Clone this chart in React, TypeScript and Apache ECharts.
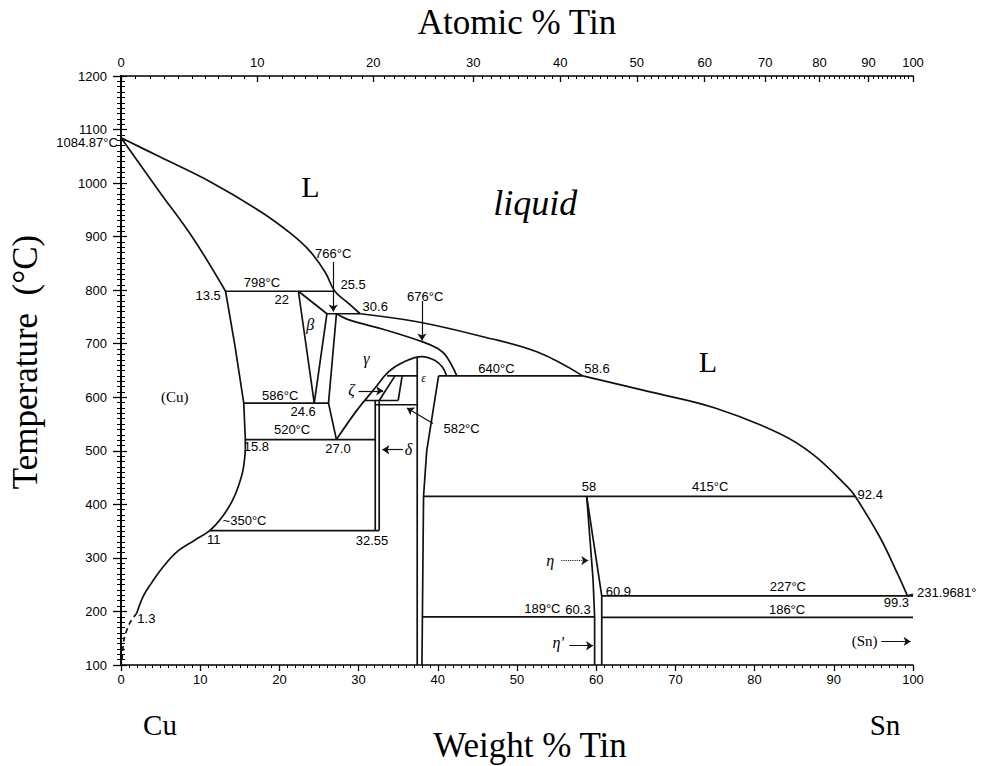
import React, { useEffect, useRef } from "react";
import * as echarts from "echarts";

type P = [number, number];

// atomic masses used to place the Atomic % axis over the Weight % axis
const MASS_CU = 63.546;
const MASS_SN = 118.71;
const atToWt = (a: number) =>
  a <= 0 ? 0 : a >= 100 ? 100 : ((a * MASS_SN) / (a * MASS_SN + (100 - a) * MASS_CU)) * 100;

const atomicMajorTicks = [0, 10, 20, 30, 40, 50, 60, 70, 80, 90, 100];
const atomicMinorTicks = Array.from({ length: 101 }, (_, i) => i);

// ---- phase boundaries (wt% Sn, °C) ----
const liquidusCu: P[] = [[0, 1084.87], [4.9, 1049], [11.2, 1003], [17.6, 947], [21.5, 905], [23.9, 872], [25.8, 833], [27.0, 798], [28.6, 777], [30.2, 756]];
const liquidusMid: P[] = [[30.2, 756], [37.4, 741], [45.7, 713], [52.5, 685], [58.3, 640]];
const liquidusSn: P[] = [[58.3, 640], [66.8, 610], [75, 580], [83.2, 532], [87.4, 493], [91.7, 433], [92.7, 415], [95.8, 339], [98, 272], [99.3, 229]];
const liquidusEnd: P[] = [[99.3, 229], [100, 231.97]];
const solidusCu: P[] = [[0, 1084.87], [4.9, 983], [9.1, 897], [13.2, 798]];
const alphaUpper: P[] = [[13.2, 798], [14.4, 695], [15.5, 589], [15.7, 521], [15.7, 502]];
const alphaSolvus: P[] = [[15.7, 502], [15.4, 464], [14.8, 433], [14.0, 405], [12.7, 375], [11.2, 351], [9.3, 333], [7.2, 313], [5.3, 283], [3.8, 252], [2.8, 228], [2.0, 197]];
const alphaDashed: P[] = [[2.0, 197], [1.1, 178], [0.45, 152], [0.2, 125], [0.1, 100]];
const betaA: P[] = [[22.4, 798], [24.4, 589]];
const betaB: P[] = [[22.4, 798], [26.0, 756]];
const betaC: P[] = [[26.0, 756], [24.4, 589]];
const line755: P[] = [[26.0, 756], [30.2, 756]];
const gammaLeft: P[] = [[27.2, 756], [26.2, 589], [27.2, 521]];
const gammaSolidus: P[] = [[27.2, 756], [28.9, 744], [33.1, 727], [38.0, 704], [40.0, 691], [41.1, 676], [42.4, 640]];
const gammaArc: P[] = [[27.2, 521], [29.8, 576], [31.9, 614], [33.8, 648], [35.7, 666], [38.0, 676], [39.6, 669], [40.6, 656], [41.1, 640]];
const epsLeft: P[] = [[37.4, 675], [37.4, 100]];
const epsRight: P[] = [[40.1, 640], [38.6, 500], [38.2, 415], [38.0, 100]];
const line640a: P[] = [[33.6, 640], [37.4, 640]];
const line640b: P[] = [[40.1, 640], [58.3, 640]];
const zetaA: P[] = [[34.6, 640], [32.6, 594]];
const zetaB: P[] = [[35.5, 640], [35.0, 594]];
const line590: P[] = [[30.8, 594], [35.0, 594]];
const line582: P[] = [[32.1, 586], [37.4, 586]];
const deltaL: P[] = [[32.1, 594], [32.1, 351]];
const deltaR: P[] = [[32.6, 594], [32.6, 351]];
const line798: P[] = [[13.2, 798], [27.0, 798]];
const line586: P[] = [[15.5, 589], [26.2, 589]];
const line520: P[] = [[15.7, 521], [32.1, 521]];
const line350: P[] = [[11.2, 351], [32.6, 351]];
const line415: P[] = [[38.2, 415], [92.7, 415]];
const etaLeft: P[] = [[58.8, 415], [59.6, 260], [59.8, 190], [59.8, 100]];
const etaRight: P[] = [[58.8, 415], [60.7, 229], [60.7, 100]];
const line227: P[] = [[60.7, 229], [100, 229]];
const line189: P[] = [[38.0, 190], [59.8, 190]];
const line186: P[] = [[60.7, 189], [100, 189]];

const straightLines: P[][] = [liquidusEnd, betaA, betaB, betaC, line755, gammaLeft, epsLeft, epsRight, line640a, line640b, zetaA, zetaB, line590, line582, deltaL, deltaR, line798, line586, line520, line350, line415, etaLeft, etaRight, line227, line189, line186, alphaUpper];
const curvedLines: P[][] = [liquidusCu, liquidusMid, liquidusSn, solidusCu, alphaSolvus, gammaSolidus, gammaArc];

// ---- arrows ----
const arrows: P[][] = [
  [[26.8, 853], [26.8, 760]],
  [[38.0, 780], [38.0, 706]],
  [[39.4, 551], [36.1, 580]],
  [[35.6, 502], [33.0, 502]],
  [[30.0, 612], [33.1, 612]],
  [[56.6, 136], [59.6, 136]],
  [[96.0, 144], [99.7, 144]],
];
const dottedArrows: P[][] = [[[55.6, 295], [59.0, 295]]];

// ---- annotations ----
const numberLabels: [number, number, string][] = [
  [17.8, 815, "798°C"], [20.3, 782, "22"], [11.0, 791, "13.5"], [26.8, 869, "766°C"],
  [29.3, 810, "25.5"], [32.1, 769, "30.6"], [38.4, 788, "676°C"], [47.4, 654, "640°C"],
  [60.1, 654, "58.6"], [20.1, 604, "586°C"], [23.0, 573, "24.6"], [21.6, 539, "520°C"],
  [17.1, 508, "15.8"], [27.4, 505, "27.0"], [15.6, 369, "~350°C"], [11.7, 334, "11"],
  [31.7, 332, "32.55"], [43.0, 542, "582°C"], [74.4, 433, "415°C"], [59.1, 433, "58"],
  [94.6, 418, "92.4"], [62.8, 237, "60.9"], [57.7, 203, "60.3"], [53.2, 205, "189°C"],
  [84.2, 246, "227°C"], [84.1, 204, "186°C"], [97.9, 216, "99.3"], [3.2, 187, "1.3"],
];
const leftEdgeLabels: [number, number, string][] = [[-0.4, 1075, "1084.87°C"]];
const rightEdgeLabels: [number, number, string][] = [[100.5, 236, "231.9681°"]];
const phaseLabels: [number, number, string][] = [
  [23.9, 735, "β"], [31.0, 673, "γ"], [29.1, 614, "ζ"], [36.3, 502, "δ"], [54.2, 296, "η"], [55.2, 142, "η'"],
];
const smallPhaseLabels: [number, number, string][] = [[38.2, 636, "ε"]];
const solidLabels: [number, number, string][] = [[6.8, 600, "(Cu)"], [93.9, 144, "(Sn)"]];
const bigLabels: [number, number, string][] = [[23.9, 993, "L"], [74.1, 666, "L"]];
const italicBigLabels: [number, number, string][] = [[52.3, 963, "liquid"]];

const SANS = "'Liberation Sans', Arial, sans-serif";
const SERIF = "'Liberation Serif', 'Times New Roman', serif";
const INK = "#000";

function labelSeries(items: [number, number, string][], label: any) {
  return {
    type: "scatter",
    xAxisIndex: 0,
    yAxisIndex: 0,
    clip: false,
    silent: true,
    symbolSize: 1,
    itemStyle: { color: "transparent" },
    data: items.map(([x, y, t]) => ({ value: [x, y], name: t })),
    label: { show: true, position: "inside", color: INK, opacity: 1, formatter: (p: any) => p.name, ...label },
    z: 5,
  };
}

const titleStyle = (text: string, size: number) => ({
  text, fill: INK, fontFamily: SERIF, fontSize: size,
  textAlign: "center", textVerticalAlign: "middle", align: "center", verticalAlign: "middle",
});

export default function App() {
  const ref = useRef<HTMLDivElement>(null);
  useEffect(() => {
    if (!ref.current) return;
    const chart = echarts.init(ref.current, null, { renderer: "svg" });
    const majorWt = atomicMajorTicks.map(atToWt);
    const minorWt = atomicMinorTicks.map(atToWt);
    const lineStyle = { color: "#111", width: 1.7 };
    const series: any[] = [];
    straightLines.forEach((d) =>
      series.push({ type: "line", data: d, showSymbol: false, silent: true, lineStyle, z: 3 })
    );
    curvedLines.forEach((d) =>
      series.push({ type: "line", data: d, smooth: 0.4, showSymbol: false, silent: true, lineStyle, z: 3 })
    );
    series.push({ type: "line", data: alphaDashed, smooth: 0.3, showSymbol: false, silent: true, lineStyle: { ...lineStyle, type: [5, 4] } });
    series.push({
      type: "lines", coordinateSystem: "cartesian2d", silent: true,
      symbol: ["none", "arrow"], symbolSize: 7,
      lineStyle: { color: "#111", width: 1.2, opacity: 1 },
      data: arrows.map((c) => ({ coords: c })),
    });
    series.push({
      type: "lines", coordinateSystem: "cartesian2d", silent: true,
      symbol: ["none", "arrow"], symbolSize: 7,
      lineStyle: { color: "#111", width: 1.1, type: "dotted", opacity: 1 },
      data: dottedArrows.map((c) => ({ coords: c })),
    });
    series.push(labelSeries(numberLabels, { fontFamily: SANS, fontSize: 13 }));
    series.push(labelSeries(leftEdgeLabels, { fontFamily: SANS, fontSize: 13, align: "right" }));
    series.push(labelSeries(rightEdgeLabels, { fontFamily: SANS, fontSize: 13, align: "left" }));
    series.push(labelSeries(phaseLabels, { fontFamily: SERIF, fontSize: 16, fontStyle: "italic" }));
    series.push(labelSeries(smallPhaseLabels, { fontFamily: SERIF, fontSize: 12, fontStyle: "italic" }));
    series.push(labelSeries(solidLabels, { fontFamily: SERIF, fontSize: 15 }));
    series.push(labelSeries(bigLabels, { fontFamily: SERIF, fontSize: 30 }));
    series.push(labelSeries(italicBigLabels, { fontFamily: SERIF, fontSize: 36, fontStyle: "italic" }));

    const axisLine = { show: true, lineStyle: { color: INK, width: 1.6 } };
    const plain = (v: number) => String(v);
    chart.setOption({
      animation: false,
      backgroundColor: "#fff",
      grid: { left: 121, right: 80, top: 76, bottom: 101, containLabel: false },
      xAxis: [
        {
          type: "value", position: "bottom", min: 0, max: 100, interval: 10,
          axisLine, splitLine: { show: false },
          axisTick: { show: true, length: 6, lineStyle: { color: INK, width: 1.3 } },
          minorTick: { show: true, splitNumber: 10, length: 3, lineStyle: { color: INK, width: 1 } },
          axisLabel: { fontFamily: SANS, fontSize: 13, color: INK, margin: 8, formatter: plain },
        },
        {
          type: "value", position: "top", min: 0, max: 100,
          axisLine, splitLine: { show: false },
          axisTick: { show: true, inside: true, length: 6, customValues: majorWt, lineStyle: { color: INK, width: 1.3 } },
          axisLabel: {
            fontFamily: SANS, fontSize: 13, color: INK, margin: 7, customValues: majorWt,
            formatter: (v: number) => {
              let best = 0;
              majorWt.forEach((w, i) => { if (Math.abs(w - v) < Math.abs(majorWt[best] - v)) best = i; });
              return String(atomicMajorTicks[best]);
            },
          },
        },
        {
          type: "value", position: "top", min: 0, max: 100,
          axisLine: { show: false }, splitLine: { show: false },
          axisTick: { show: true, inside: true, length: 3, customValues: minorWt, lineStyle: { color: INK, width: 1 } },
          axisLabel: { show: false },
        },
      ],
      yAxis: [
        {
          type: "value", position: "left", min: 100, max: 1200, interval: 100,
          axisLine, splitLine: { show: false },
          axisTick: { show: true, length: 8, lineStyle: { color: INK, width: 1.3 } },
          minorTick: { show: true, splitNumber: 10, length: 4, lineStyle: { color: INK, width: 1 } },
          axisLabel: { fontFamily: SANS, fontSize: 13, color: INK, margin: 14, formatter: plain },
        },
        {
          type: "value", position: "right", min: 100, max: 1200, interval: 100,
          axisLine, splitLine: { show: false },
          axisTick: { show: true, length: 6, lineStyle: { color: INK, width: 1.2 } },
          minorTick: { show: true, splitNumber: 10, length: 4, lineStyle: { color: INK, width: 1 } },
          axisLabel: { show: false },
        },
      ],
      graphic: [
        { type: "text", x: 517, y: 22, style: titleStyle("Atomic % Tin", 35) },
        { type: "text", x: 530, y: 745, style: titleStyle("Weight % Tin", 35) },
        { type: "text", x: 25, y: 362, rotation: Math.PI / 2, style: titleStyle("Temperature  (°C)", 35) },
        { type: "text", x: 160, y: 725, style: titleStyle("Cu", 29) },
        { type: "text", x: 885, y: 725, style: titleStyle("Sn", 29) },
      ],
      series,
    });
    return () => chart.dispose();
  }, []);
  return <div ref={ref} style={{ position: "fixed", left: 0, top: 0, width: 993, height: 766, background: "#fff" }} />;
}
